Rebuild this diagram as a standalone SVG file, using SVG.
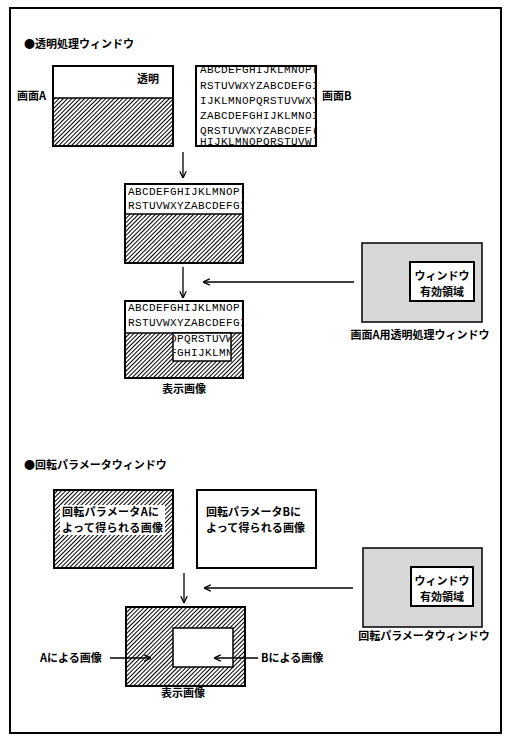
<svg xmlns="http://www.w3.org/2000/svg" width="511" height="742" viewBox="0 0 511 742">
<defs>
<style>
.bx{fill:none;stroke:#000;stroke-width:2}
.wh{fill:#fff;stroke:none}
.ht{fill:url(#hatch);stroke:none}
.gr{fill:#d8d8d8;stroke:#000;stroke-width:1.5}
.jp{font-family:"Noto Sans CJK JP","Noto Sans",sans-serif;font-size:11px;font-weight:bold;fill:#000}
.mc{text-anchor:middle}
.mono{font-family:"Liberation Mono","DejaVu Sans Mono",monospace;font-size:11px;letter-spacing:0.4px;fill:#000}
.conn line{stroke:#000;stroke-width:1.3;fill:none;marker-end:url(#ah)}
</style>
<pattern id="hatch" width="3" height="3" patternUnits="userSpaceOnUse" patternTransform="rotate(45)">
<rect width="3" height="3" fill="#fff"/>
<line x1="0.5" y1="0" x2="0.5" y2="3" stroke="#000" stroke-width="1"/>
</pattern>
<marker id="ah" viewBox="0 0 10 10" refX="9.5" refY="5" markerWidth="8" markerHeight="8" markerUnits="userSpaceOnUse" orient="auto">
<path d="M1,1 L9.5,5 L1,9" fill="none" stroke="#000" stroke-width="1.6"/>
</marker>
<clipPath id="clipB"><rect x="197" y="67" width="118" height="78"/></clipPath>
<clipPath id="clip2"><rect x="126" y="185" width="116" height="28"/></clipPath>
<clipPath id="clip3"><rect x="126" y="302" width="116" height="30"/></clipPath>
<clipPath id="clipW"><rect x="174" y="334" width="56" height="26"/></clipPath>
</defs>

<rect x="0" y="0" width="511" height="742" fill="#fff"/>
<rect id="frame" x="10" y="8" width="491" height="725" class="bx"/>

<g id="title1"><text x="24" y="48" class="jp">●透明処理ウィンドウ</text></g>

<g id="screenA">
<rect x="53" y="66" width="120" height="80" class="wh"/>
<rect x="53" y="98" width="120" height="48" class="ht"/>
<line x1="53" y1="98" x2="173" y2="98" stroke="#000" stroke-width="1.5"/>
<rect x="53" y="66" width="120" height="80" class="bx"/>
<text x="137" y="83" class="jp">透明</text>
<text x="17" y="100" class="jp">画面A</text>
</g>

<g id="screenB">
<rect x="196" y="66" width="120" height="80" class="wh"/>
<g clip-path="url(#clipB)" class="mono">
<text x="200" y="73">ABCDEFGHIJKLMNOP(</text>
<text x="200" y="89">RSTUVWXYZABCDEFGI</text>
<text x="200" y="104">IJKLMNOPQRSTUVWXY</text>
<text x="200" y="119">ZABCDEFGHIJKLMNOI</text>
<text x="200" y="134">QRSTUVWXYZABCDEF(</text>
<text x="200" y="145">HIJKLMNOPQRSTUVW)</text>
</g>
<rect x="196" y="66" width="120" height="80" class="bx"/>
<text x="322" y="100" class="jp">画面B</text>
</g>

<g id="composite1">
<rect x="125" y="184" width="118" height="79" class="wh"/>
<g clip-path="url(#clip2)" class="mono">
<text x="128" y="195">ABCDEFGHIJKLMNOP(</text>
<text x="128" y="209">RSTUVWXYZABCDEFGI</text>
</g>
<rect x="125" y="214" width="118" height="49" class="ht"/>
<line x1="125" y1="214" x2="243" y2="214" stroke="#000" stroke-width="1.5"/>
<rect x="125" y="184" width="118" height="79" class="bx"/>
</g>

<g id="display1">
<rect x="125" y="301" width="118" height="77" class="wh"/>
<g clip-path="url(#clip3)" class="mono">
<text x="128" y="311">ABCDEFGHIJKLMNOP(</text>
<text x="128" y="326">RSTUVWXYZABCDEFGI</text>
</g>
<rect x="125" y="333" width="118" height="45" class="ht"/>
<line x1="125" y1="333" x2="243" y2="333" stroke="#000" stroke-width="1.5"/>
<rect x="173" y="333" width="58" height="28" fill="#fff" stroke="#000" stroke-width="1.5"/>
<g clip-path="url(#clipW)" class="mono">
<text x="128" y="342">IJKLMNOPQRSTUVWXY</text>
<text x="128" y="356">ZABCDEFGHIJKLMNOI</text>
</g>
<rect x="125" y="301" width="118" height="77" class="bx"/>
<text x="184" y="393" class="jp mc">表示画像</text>
</g>

<g id="window1">
<rect x="362" y="243" width="120" height="79" class="gr"/>
<rect x="410" y="262" width="64" height="39" fill="#fff" stroke="#000" stroke-width="2"/>
<text x="442" y="280" class="jp mc">ウィンドウ</text>
<text x="442" y="296" class="jp mc">有効領域</text>
<text x="420" y="339" class="jp mc">画面A用透明処理ウィンドウ</text>
</g>

<g id="title2"><text x="24" y="469" class="jp">●回転パラメータウィンドウ</text></g>

<g id="imageA">
<rect x="54" y="490" width="119" height="78" class="ht"/>
<rect x="60" y="505" width="105" height="30" class="wh"/>
<rect x="54" y="490" width="119" height="78" class="bx"/>
<text x="62" y="516" class="jp" textLength="97" lengthAdjust="spacing">回転パラメータAに</text>
<text x="62" y="532" class="jp" textLength="101" lengthAdjust="spacing">よって得られる画像</text>
</g>

<g id="imageB">
<rect x="197" y="490" width="119" height="78" fill="#fff" stroke="#000" stroke-width="2"/>
<text x="206" y="516" class="jp" textLength="95" lengthAdjust="spacing">回転パラメータBに</text>
<text x="206" y="532" class="jp" textLength="99" lengthAdjust="spacing">よって得られる画像</text>
</g>

<g id="window2">
<rect x="363" y="548" width="119" height="79" class="gr"/>
<rect x="411" y="567" width="62" height="39" fill="#fff" stroke="#000" stroke-width="2"/>
<text x="442" y="585" class="jp mc">ウィンドウ</text>
<text x="442" y="601" class="jp mc">有効領域</text>
<text x="424" y="640" class="jp mc">回転パラメータウィンドウ</text>
</g>

<g id="display2">
<rect x="126" y="607" width="119" height="79" class="ht"/>
<rect x="173" y="628" width="60" height="39" fill="#fff" stroke="#000" stroke-width="1.5"/>
<rect x="126" y="607" width="119" height="79" class="bx"/>
<text x="183" y="697" class="jp mc">表示画像</text>
<text x="40" y="662" class="jp">Aによる画像</text>
<text x="261" y="662" class="jp">Bによる画像</text>
</g>

<g id="connectors" class="conn">
<line x1="183" y1="152" x2="183" y2="178"/>
<line x1="183" y1="267" x2="183" y2="298"/>
<line x1="354" y1="282" x2="203" y2="282"/>
<line x1="184" y1="573" x2="184" y2="603"/>
<line x1="353" y1="588" x2="204" y2="588"/>
<line x1="110" y1="658" x2="151" y2="658"/>
<line x1="258" y1="658" x2="214" y2="658"/>
</g>
</svg>
